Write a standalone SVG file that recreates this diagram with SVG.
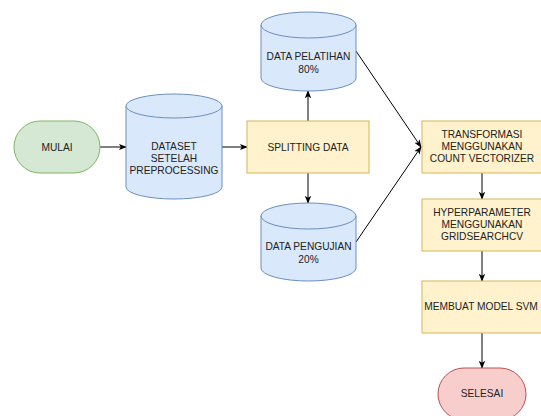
<svg xmlns="http://www.w3.org/2000/svg" width="541" height="416" viewBox="0 0 541 416">
<style>
text{font-family:"Liberation Sans",Arial,sans-serif;font-size:10.2px;fill:#222;text-anchor:middle}
.cyl{fill:#dae8fc;stroke:#6c8ebf;stroke-width:1}
.proc{fill:#fff2cc;stroke:#d6b656;stroke-width:1}
.start{fill:#d5e8d4;stroke:#82b366;stroke-width:1}
.end{fill:#f8cecc;stroke:#b85450;stroke-width:1}
.edge{fill:none;stroke:#000;stroke-width:1;marker-end:url(#arr)}
</style>
<defs>
<marker id="arr" viewBox="0 0 10 10" refX="9" refY="5" markerWidth="8" markerHeight="8" markerUnits="userSpaceOnUse" orient="auto">
<path d="M0,1 L10,5 L0,9 L2.5,5 Z" fill="#000"/>
</marker>
</defs>
<g id="connectors">
<path class="edge" d="M100,147 L126,147"/>
<path class="edge" d="M222,147 L247,147"/>
<path class="edge" d="M308,121 L308,91"/>
<path class="edge" d="M308,173 L308,203"/>
<path class="edge" d="M356,51 L421,147"/>
<path class="edge" d="M356,242 L421,147"/>
<path class="edge" d="M482,173 L482,199"/>
<path class="edge" d="M482,251 L482,281"/>
<path class="edge" d="M482,333 L482,368"/>
</g>
<g id="mulai">
<rect class="start" x="14" y="121" width="86" height="52" rx="26" ry="26"/>
<text x="57" y="150.6">MULAI</text>
</g>
<g id="dataset">
<path class="cyl" d="M126,106 L126,187 A48,12 0 0 0 222,187 L222,106 A48,12 0 0 0 126,106 Z"/>
<path class="cyl" d="M126,106 A48,12 0 0 0 222,106" fill="none"/>
<text x="174" y="149.6">DATASET</text>
<text x="174" y="161.6">SETELAH</text>
<text x="174" y="173.6">PREPROCESSING</text>
</g>
<g id="splitting">
<rect class="proc" x="247" y="121" width="122" height="52"/>
<text x="308" y="150.6">SPLITTING DATA</text>
</g>
<g id="pelatihan">
<path class="cyl" d="M261,25 L261,78 A47.5,13 0 0 0 356,78 L356,25 A47.5,13 0 0 0 261,25 Z"/>
<path class="cyl" d="M261,25 A47.5,13 0 0 0 356,25" fill="none"/>
<text x="308.5" y="59.6">DATA PELATIHAN</text>
<text x="308.5" y="72.6">80%</text>
</g>
<g id="pengujian">
<path class="cyl" d="M261,216 L261,268 A47.5,13 0 0 0 356,268 L356,216 A47.5,13 0 0 0 261,216 Z"/>
<path class="cyl" d="M261,216 A47.5,13 0 0 0 356,216" fill="none"/>
<text x="308.5" y="249.6">DATA PENGUJIAN</text>
<text x="308.5" y="262.6">20%</text>
</g>
<g id="transformasi">
<rect class="proc" x="422" y="121" width="120" height="52"/>
<text x="482" y="137.6">TRANSFORMASI</text>
<text x="482" y="149.9">MENGGUNAKAN</text>
<text x="482" y="162.2">COUNT VECTORIZER</text>
</g>
<g id="hyperparameter">
<rect class="proc" x="422" y="199" width="120" height="52"/>
<text x="482" y="215.6">HYPERPARAMETER</text>
<text x="482" y="227.6">MENGGUNAKAN</text>
<text x="482" y="240.2">GRIDSEARCHCV</text>
</g>
<g id="membuat">
<rect class="proc" x="422" y="281" width="120" height="52"/>
<text x="481" y="310.4">MEMBUAT MODEL SVM</text>
</g>
<g id="selesai">
<rect class="end" x="438" y="368" width="88" height="52" rx="26" ry="26"/>
<text x="482" y="397.4">SELESAI</text>
</g>
</svg>
